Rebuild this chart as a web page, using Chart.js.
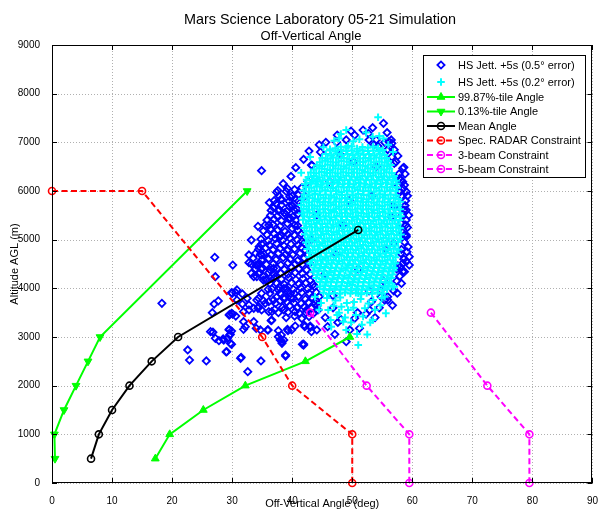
<!DOCTYPE html>
<html><head><meta charset="utf-8">
<script src="https://cdn.jsdelivr.net/npm/chart.js@4/dist/chart.umd.min.js"></script>
<style>html,body{margin:0;padding:0;background:#fff}canvas{display:block}</style>
</head><body>
<canvas id="c" width="602" height="513"></canvas>
<script>
// ---- tick labels ----
const xTicks = [0,10,20,30,40,50,60,70,80,90];
const yTicks = [0,1000,2000,3000,4000,5000,6000,7000,8000,9000];

// ---- line series (deg, m) ----
const p9987X = [17.2,19.6,25.2,32.2,42.2,49.6];
const p9987Y = [500,1000,1500,2000,2500,3000];
const p013X  = [0.5,0.4,2.0,4.0,6.0,8.0,32.5];
const p013Y  = [500,1000,1500,2000,2500,3000,6000];
const meanX  = [6.5,7.8,10.0,12.9,16.6,21.0,51.0];
const meanY  = [500,1000,1500,2000,2500,3000,5200];
const radarX = [0,15,35,40,50,50];
const radarY = [6000,6000,3000,2000,1000,0];
const beam3X = [43.0,52.4,59.5,59.5];
const beam3Y = [3500,2000,1000,0];
const beam5X = [63.1,72.5,79.5,79.5];
const beam5Y = [3500,2000,1000,0];

// ---- HS Jett. +5s (0.5 deg error) scatter ----
const hs05 = [
[34.9,6417],[43.3,6527],[37.4,5973],[36.2,5760],[38.1,5829],[37.7,5589],[36.9,5657],[39.5,5691],[34.3,5274],[36.1,5301],
[33.2,4993],[34.5,4855],[27.1,4637],[30.1,4479],[32.8,4685],[34.7,4699],[34.3,4479],[27.2,4239],[33.6,4239],[35.2,4171],
[30.0,3898],[30.8,3966],[31.7,3884],[27.7,3740],[27.0,3678],[26.7,3500],[29.6,3466],[30.1,3472],[32.8,3555],[32.2,3212],
[31.9,3158],[26.4,3109],[26.8,3100],[29.5,3144],[29.6,3041],[27.2,2973],[27.8,2924],[28.5,2959],[29.7,2870],[29.1,2698],
[22.6,2733],[22.9,2527],[25.7,2507],[31.4,2562],[32.6,2287],[34.8,2507],[35.9,3144],[36.6,3349],[37.7,3006],[38.3,2903],
[39.2,3158],[38.9,2609],[41.7,2850],[34.3,3589],[35.5,3692],[36.6,3520],[34.1,3760],[18.3,3692],[29.9,3910],[29.5,3452],
[29.9,3487],[29.2,2973],[28.6,2938],[29.5,3158],[29.7,3055],[29.0,2692],
[34.9,4685],[32.8,4527],[34.0,4479],[34.9,4390],[33.2,4308],[34.1,4239],[35.1,4253],[36.1,4321],[35.6,4171],[36.9,4411],
[37.2,4239],[37.4,4103],[36.0,3980],[36.3,3898],[37.7,3966],[38.6,4000],[34.9,3898],[34.4,3795],[35.2,3746],[36.1,3725],
[36.9,3760],[38.0,3746],[38.8,3795],[39.7,3898],[40.2,3795],[32.5,3795],[32.8,3658],[33.6,3589],[34.4,3623],[34.9,3555],
[36.1,3520],[37.1,3569],[37.7,3500],[38.6,3555],[30.6,3910],[30.8,3760],[31.7,3678],[31.9,3520],[30.6,3431],[31.9,3314],
[33.6,3314],[34.0,3178],[34.7,3144],[36.0,3144],[36.5,3335],[37.7,3130],[38.2,3041],[39.3,3130],[38.6,2938],[38.0,2938],
[38.3,2870],[41.9,2856],[40.5,3226],[42.1,3212],[43.0,3226],[43.2,3109],[38.9,2630],[31.5,2583],[29.9,2850],[29.9,3123],
[42.0,3246],[43.0,3199],[44.1,3144],[45.9,3212],[47.1,3055],[48.1,3363],[49.6,3144],[50.4,3384],[51.2,3178],[49.0,2903],
[41.9,2835],[39.9,3144],[52.9,3555],[53.2,3725],[54.8,3828],[55.9,3760],[52.3,3472],[44.3,3555],[42.4,3555],[58.4,4342],
[57.6,4459],[59.0,4548],[58.1,4719],[59.0,5095],
[55.2,7391],[51.8,7253],[50.4,7150],[47.4,7000],[56.1,7014],[56.6,6980],[55.4,7000],[43.2,6534],[41.6,6068],[54.3,6917],
[57.0,6569],[58.6,6486],[57.9,6260],[58.4,6191],[59.0,5986],[58.0,5986],[57.6,6102],[39.9,5712],[40.8,5623],[41.0,5787],
[42.1,5897],[39.7,5438],[40.4,5301],[59.0,5609],[58.1,5336],[58.7,5095],
[56.5,7048],[56.4,6911],[58.4,6466],[57.9,6123],[58.7,6123],[58.1,6226],[58.6,5609],[59.0,5404],[59.0,5061],[59.5,4650],
[59.5,4479],[58.7,4342],[58.0,4445],[58.4,4514],[55.4,3760],[55.9,3828],[54.8,3966],[56.9,4925],[56.5,5472],
[37.6,6010],[39.0,5990],[40.4,6030],[37.0,5800],[38.3,5820],[39.5,5790],[40.7,5830],[36.5,5600],[37.8,5620],[39.1,5580],
[40.3,5610],[35.8,5400],[37.0,5420],[38.2,5390],[39.4,5430],[40.6,5400],[35.2,5180],[36.4,5220],[37.6,5200],[38.8,5170],
[40.0,5230],[41.0,5190],[34.8,5010],[36.0,4980],[37.2,5020],[38.4,4990],[39.6,5030],[40.8,5000],[41.6,4970],[34.4,4800],
[35.6,4830],[36.8,4790],[38.0,4820],[39.2,4780],[40.4,4810],[41.5,4840],[42.2,4780],[33.5,4620],[34.9,4580],[36.1,4610],
[37.3,4590],[38.5,4630],[39.7,4600],[40.9,4570],[42.0,4620],[33.9,4400],[35.0,4420],[36.3,4380],[37.5,4410],[38.7,4390],
[39.9,4430],[41.1,4400],[42.4,4380],[35.8,4180],[37.0,4210],[38.2,4190],[39.4,4220],[40.6,4180],[41.8,4200],[43.0,4160],
[36.6,3990],[37.8,4020],[39.0,4000],[40.2,3980],[41.4,4010],[42.6,3990],[43.7,4030],[37.4,3820],[38.6,3790],[39.8,3810],
[41.0,3830],[42.2,3780],[43.4,3800],[44.5,3830],[38.4,3610],[39.6,3640],[40.8,3600],[42.0,3620],[43.2,3590],[44.2,3650],
[39.0,3400],[40.4,3430],[41.6,3380],[42.8,3420],
[44.0,5500],[46.2,6200],[48.5,5300],[51.0,4400],[53.3,5900],[55.6,4800],[47.3,4700],[50.2,6600],[52.8,3950],[45.5,4300],
[56.8,5700],[54.0,6500],[43.2,5000],[49.5,5800],[57.4,4400],[42.6,6200],[46.8,3850],[55.2,4150],[53.6,6950],[48.0,6750],
[38.5,6150],[39.8,6300],[40.6,6480],[41.9,6650],[42.8,6820],[44.5,6950],[39.2,6050],[40.0,5900],[38.7,5550],
[56.7,3650],[57.5,3900],[58.2,4100],[53.8,3400],[54.5,3600],[50.9,3500],[47.6,3300],[45.5,3400],[46.8,3600],[44.0,3750],
[59.2,5250],[58.9,5800],[59.3,4850],[58.8,6350],[57.6,6720],[57.0,6850],[55.8,7200],[53.4,7300],[52.7,7180],[49.8,7230],
[37.8,5900],[39.6,5880],[41.0,5920],[38.2,5710],[40.0,5690],[37.3,5740],[36.4,5500],[37.5,5480],[38.9,5520],[40.1,5470],
[41.0,5530],[35.5,5300],[36.8,5310],[38.0,5280],[39.2,5330],[40.9,5290],[37.9,5050],[35.8,5100],[37.0,5120],[38.1,5080],
[39.3,5110],[40.4,5090],[41.5,5120],[34.9,4910],[36.2,4890],[37.4,4920],[38.6,4880],[39.8,4910],[41.0,4890],[42.0,4930],
[33.9,4720],[35.3,4700],[36.5,4690],[37.7,4720],[38.9,4700],[40.1,4690],[41.3,4720],[42.5,4690],[33.2,4500],[34.5,4520],
[35.7,4490],[36.9,4510],[38.1,4480],[39.3,4520],[40.5,4500],[41.7,4490],[42.9,4520],[34.5,4300],[36.9,4290],[38.1,4310],
[39.3,4290],[40.5,4320],[41.7,4300],[43.0,4290],[36.3,4100],[38.7,4080],[39.9,4110],[41.1,4090],[42.3,4110],[43.5,4080],
[38.0,3900],[39.2,3930],[40.4,3890],[41.6,3910],[42.8,3900],[44.0,3920],[37.2,3690],[39.1,3720],[40.3,3700],[41.5,3690],
[42.7,3710],[43.9,3690],[39.3,3510],[40.5,3520],[41.2,3490],[42.3,3500],[43.5,3480],
[58.2,5900],[58.8,5700],[58.3,5500],[58.9,5300],[58.4,5150],[58.7,4950],[58.2,4800],[58.6,4600],[57.9,4250],[57.4,4150],
[56.9,3950],[58.0,5650],[58.5,6050],[57.8,6350],[56.6,6700],[55.9,6850],[59.2,5900],[59.4,5500],[59.1,4750],
[45.6,7000],[44.7,6800],[47.5,7150],[49.0,7050],[52.8,7050],[54.0,7050],[57.3,6600]
];

// ---- HS Jett. +5s (0.2 deg error) scatter ----
const hs02 = [
[47.2,6880],[48.1,6910],[49.0,6890],[49.9,6920],[50.8,6870],[51.7,6905],[52.6,6890],[53.5,6915],[54.3,6880],
[45.6,6760],[46.5,6730],[47.4,6770],[48.3,6740],[49.2,6760],[50.1,6735],[51.0,6770],[51.9,6745],[52.8,6760],[53.7,6730],[54.6,6765],[55.4,6740],
[44.6,6590],[45.5,6620],[46.4,6600],[47.3,6585],[48.2,6615],[49.1,6600],[50.0,6580],[50.9,6610],[51.8,6595],[52.7,6620],[53.6,6590],[54.5,6605],[55.4,6585],[56.0,6615],
[43.6,6440],[44.5,6470],[45.4,6450],[46.3,6430],[47.2,6460],[48.1,6445],[49.0,6470],[49.9,6440],[50.8,6455],[51.7,6430],[52.6,6465],[53.5,6445],[54.4,6460],[55.3,6435],[56.2,6455],
[42.7,6290],[43.6,6310],[44.5,6285],[45.4,6320],[46.3,6295],[47.2,6305],[48.1,6280],[49.0,6315],[49.9,6300],[50.8,6285],[51.7,6310],[52.6,6295],[53.5,6320],[54.4,6290],[55.3,6305],[56.2,6285],[57.0,6310],
[42.1,6140],[43.0,6165],[43.9,6150],[44.8,6130],[45.7,6160],[46.6,6145],[47.5,6170],[48.4,6140],[49.3,6155],[50.2,6135],[51.1,6165],[52.0,6150],[52.9,6130],[53.8,6160],[54.7,6145],[55.6,6170],[56.5,6140],[57.4,6155],
[41.9,6010],[42.8,5985],[43.7,6005],[44.6,5990],[45.5,6015],[46.4,5995],[47.3,6010],[48.2,5980],[49.1,6005],[50.0,5990],[50.9,6020],[51.8,5995],[52.7,6005],[53.6,5985],[54.5,6010],[55.4,5990],[56.3,6015],[57.2,5995],
[41.6,5840],[42.5,5865],[43.4,5850],[44.3,5830],[45.2,5860],[46.1,5845],[47.0,5870],[47.9,5840],[48.8,5855],[49.7,5835],[50.6,5865],[51.5,5850],[52.4,5830],[53.3,5860],[54.2,5845],[55.1,5870],[56.0,5840],[56.9,5855],[57.7,5835],
[41.5,5710],[42.4,5685],[43.3,5705],[44.2,5690],[45.1,5715],[46.0,5695],[46.9,5710],[47.8,5680],[48.7,5705],[49.6,5690],[50.5,5720],[51.4,5695],[52.3,5705],[53.2,5685],[54.1,5710],[55.0,5690],[55.9,5715],[56.8,5695],[57.7,5705],
[41.6,5540],[42.5,5565],[43.4,5550],[44.3,5530],[45.2,5560],[46.1,5545],[47.0,5570],[47.9,5540],[48.8,5555],[49.7,5535],[50.6,5565],[51.5,5550],[52.4,5530],[53.3,5560],[54.2,5545],[55.1,5570],[56.0,5540],[56.9,5555],[57.9,5545],
[41.8,5410],[42.7,5385],[43.6,5405],[44.5,5390],[45.4,5415],[46.3,5395],[47.2,5410],[48.1,5380],[49.0,5405],[49.9,5390],[50.8,5420],[51.7,5395],[52.6,5405],[53.5,5385],[54.4,5410],[55.3,5390],[56.2,5415],[57.1,5395],[57.9,5405],
[42.0,5240],[42.9,5265],[43.8,5250],[44.7,5230],[45.6,5260],[46.5,5245],[47.4,5270],[48.3,5240],[49.2,5255],[50.1,5235],[51.0,5265],[51.9,5250],[52.8,5230],[53.7,5260],[54.6,5245],[55.5,5270],[56.4,5240],[57.3,5255],[58.0,5235],
[42.1,5110],[43.0,5085],[43.9,5105],[44.8,5090],[45.7,5115],[46.6,5095],[47.5,5110],[48.4,5080],[49.3,5105],[50.2,5090],[51.1,5120],[52.0,5095],[52.9,5105],[53.8,5085],[54.7,5110],[55.6,5090],[56.5,5115],[57.4,5095],[58.1,5105],
[42.3,4940],[43.2,4965],[44.1,4950],[45.0,4930],[45.9,4960],[46.8,4945],[47.7,4970],[48.6,4940],[49.5,4955],[50.4,4935],[51.3,4965],[52.2,4950],[53.1,4930],[54.0,4960],[54.9,4945],[55.8,4970],[56.7,4940],[57.6,4955],
[42.5,4810],[43.4,4785],[44.3,4805],[45.2,4790],[46.1,4815],[47.0,4795],[47.9,4810],[48.8,4780],[49.7,4805],[50.6,4790],[51.5,4820],[52.4,4795],[53.3,4805],[54.2,4785],[55.1,4810],[56.0,4790],[56.9,4815],[57.7,4795],
[42.8,4640],[43.7,4665],[44.6,4650],[45.5,4630],[46.4,4660],[47.3,4645],[48.2,4670],[49.1,4640],[50.0,4655],[50.9,4635],[51.8,4665],[52.7,4650],[53.6,4630],[54.5,4660],[55.4,4645],[56.3,4670],[57.2,4640],
[43.0,4510],[43.9,4485],[44.8,4505],[45.7,4490],[46.6,4515],[47.5,4495],[48.4,4510],[49.3,4480],[50.2,4505],[51.1,4490],[52.0,4520],[52.9,4495],[53.8,4505],[54.7,4485],[55.6,4510],[56.5,4490],[57.2,4515],
[43.5,4340],[44.4,4365],[45.3,4350],[46.2,4330],[47.1,4360],[48.0,4345],[48.9,4370],[49.8,4340],[50.7,4355],[51.6,4335],[52.5,4365],[53.4,4350],[54.3,4330],[55.2,4360],[56.1,4345],[56.9,4365],
[44.0,4210],[44.9,4185],[45.8,4205],[46.7,4190],[47.6,4215],[48.5,4195],[49.4,4210],[50.3,4180],[51.2,4205],[52.1,4190],[53.0,4220],[53.9,4195],[54.8,4205],[55.7,4185],[56.5,4210],
[44.6,4040],[45.5,4065],[46.4,4050],[47.3,4030],[48.2,4060],[49.1,4045],[50.0,4070],[50.9,4040],[51.8,4055],[52.7,4035],[53.6,4065],[54.5,4050],[55.4,4030],[56.0,4060],
[45.2,3910],[46.1,3885],[47.0,3905],[47.9,3890],[48.8,3915],[49.7,3895],[50.6,3910],[51.5,3880],[52.4,3905],[53.3,3890],[54.2,3915],[55.0,3895],
[46.3,6830],[47.2,6815],[48.1,6840],[49.0,6820],[49.9,6830],[50.8,6810],[51.7,6835],[52.6,6820],[53.5,6830],[54.4,6815],[55.1,6840],
[45.0,6680],[45.9,6665],[46.8,6690],[47.7,6670],[48.6,6680],[49.5,6660],[50.4,6685],[51.3,6670],[52.2,6680],[53.1,6665],[54.0,6690],[54.9,6670],[55.7,6680],
[44.1,6530],[45.0,6515],[45.9,6540],[46.8,6520],[47.7,6530],[48.6,6510],[49.5,6535],[50.4,6520],[51.3,6530],[52.2,6515],[53.1,6540],[54.0,6520],[54.9,6530],[55.8,6510],[56.4,6535],
[43.1,6380],[44.0,6365],[44.9,6390],[45.8,6370],[46.7,6380],[47.6,6360],[48.5,6385],[49.4,6370],[50.3,6380],[51.2,6365],[52.1,6390],[53.0,6370],[53.9,6380],[54.8,6360],[55.7,6385],[56.6,6370],
[42.4,6230],[43.3,6215],[44.2,6240],[45.1,6220],[46.0,6230],[46.9,6210],[47.8,6235],[48.7,6220],[49.6,6230],[50.5,6215],[51.4,6240],[52.3,6220],[53.2,6230],[54.1,6210],[55.0,6235],[55.9,6220],[56.8,6230],[57.3,6210],
[42.3,6080],[43.2,6065],[44.1,6090],[45.0,6070],[45.9,6080],[46.8,6060],[47.7,6085],[48.6,6070],[49.5,6080],[50.4,6065],[51.3,6090],[52.2,6070],[53.1,6080],[54.0,6060],[54.9,6085],[55.8,6070],[56.7,6080],[57.5,6065],
[42.0,5930],[42.9,5915],[43.8,5940],[44.7,5920],[45.6,5930],[46.5,5910],[47.4,5935],[48.3,5920],[49.2,5930],[50.1,5915],[51.0,5940],[51.9,5920],[52.8,5930],[53.7,5910],[54.6,5935],[55.5,5920],[56.4,5930],[57.3,5915],
[41.9,5780],[42.8,5765],[43.7,5790],[44.6,5770],[45.5,5780],[46.4,5760],[47.3,5785],[48.2,5770],[49.1,5780],[50.0,5765],[50.9,5790],[51.8,5770],[52.7,5780],[53.6,5760],[54.5,5785],[55.4,5770],[56.3,5780],[57.2,5765],[58.0,5780],
[41.9,5630],[42.8,5615],[43.7,5640],[44.6,5620],[45.5,5630],[46.4,5610],[47.3,5635],[48.2,5620],[49.1,5630],[50.0,5615],[50.9,5640],[51.8,5620],[52.7,5630],[53.6,5610],[54.5,5635],[55.4,5620],[56.3,5630],[57.2,5615],[58.0,5625],
[42.0,5480],[42.9,5465],[43.8,5490],[44.7,5470],[45.6,5480],[46.5,5460],[47.4,5485],[48.3,5470],[49.2,5480],[50.1,5465],[51.0,5490],[51.9,5470],[52.8,5480],[53.7,5460],[54.6,5485],[55.5,5470],[56.4,5480],[57.3,5465],[58.1,5480],
[42.3,5330],[43.2,5315],[44.1,5340],[45.0,5320],[45.9,5330],[46.8,5310],[47.7,5335],[48.6,5320],[49.5,5330],[50.4,5315],[51.3,5340],[52.2,5320],[53.1,5330],[54.0,5310],[54.9,5335],[55.8,5320],[56.7,5330],[57.6,5315],
[42.4,5180],[43.3,5165],[44.2,5190],[45.1,5170],[46.0,5180],[46.9,5160],[47.8,5185],[48.7,5170],[49.6,5180],[50.5,5165],[51.4,5190],[52.3,5170],[53.2,5180],[54.1,5160],[55.0,5185],[55.9,5170],[56.8,5180],[57.7,5165],
[42.6,5030],[43.5,5015],[44.4,5040],[45.3,5020],[46.2,5030],[47.1,5010],[48.0,5035],[48.9,5020],[49.8,5030],[50.7,5015],[51.6,5040],[52.5,5020],[53.4,5030],[54.3,5010],[55.2,5035],[56.1,5020],[57.0,5030],[57.9,5015],
[42.8,4880],[43.7,4865],[44.6,4890],[45.5,4870],[46.4,4880],[47.3,4860],[48.2,4885],[49.1,4870],[50.0,4880],[50.9,4865],[51.8,4890],[52.7,4870],[53.6,4880],[54.5,4860],[55.4,4885],[56.3,4870],[57.2,4880],
[43.0,4730],[43.9,4715],[44.8,4740],[45.7,4720],[46.6,4730],[47.5,4710],[48.4,4735],[49.3,4720],[50.2,4730],[51.1,4715],[52.0,4740],[52.9,4720],[53.8,4730],[54.7,4710],[55.6,4735],[56.5,4720],[57.4,4730],
[43.3,4580],[44.2,4565],[45.1,4590],[46.0,4570],[46.9,4580],[47.8,4560],[48.7,4585],[49.6,4570],[50.5,4580],[51.4,4565],[52.3,4590],[53.2,4570],[54.1,4580],[55.0,4560],[55.9,4585],[56.8,4570],
[43.7,4430],[44.6,4415],[45.5,4440],[46.4,4420],[47.3,4430],[48.2,4410],[49.1,4435],[50.0,4420],[50.9,4430],[51.8,4415],[52.7,4440],[53.6,4420],[54.5,4430],[55.4,4410],[56.3,4435],[57.0,4420],
[44.2,4280],[45.1,4265],[46.0,4290],[46.9,4270],[47.8,4280],[48.7,4260],[49.6,4285],[50.5,4270],[51.4,4280],[52.3,4265],[53.2,4290],[54.1,4270],[55.0,4280],[55.9,4260],[56.7,4285],
[44.7,4130],[45.6,4115],[46.5,4140],[47.4,4120],[48.3,4130],[49.2,4110],[50.1,4135],[51.0,4120],[51.9,4130],[52.8,4115],[53.7,4140],[54.6,4120],[55.5,4130],[56.2,4110],
[45.3,3980],[46.2,3965],[47.1,3990],[48.0,3970],[48.9,3980],[49.8,3960],[50.7,3985],[51.6,3970],[52.5,3980],[53.4,3965],[54.3,3990],[55.2,3970],[55.8,3980],
[54.3,7514],[48.1,7171],[49.0,7253],[41.5,6376],[46.3,6856],[49.3,6924],[51.2,7062],[53.4,7115],[54.5,7130],[44.0,6191],
[50.2,7020],[47.0,7030],[52.3,7200],[55.2,7080],[56.0,6950],[47.8,7080],[45.2,6900],[43.0,6700],[56.8,6800],
[57.0,4034],[55.4,3828],[53.4,3349],[55.6,3486],[51.0,2835],[50.8,3062],[48.5,3314],[46.0,3555],[49.3,3555],[52.1,3589],
[49.0,3144],[46.5,3212],[51.0,3898],[43.8,3828],[48.2,3623],[56.7,4034],[47.2,3750],[50.3,3720],[53.5,3760],[44.8,3700],
[51.8,3420],[47.5,3450],[45.3,3980],[54.7,3650],[49.8,3300],[52.5,3050],[45.8,3800],[46.9,3640],[48.0,3810],[49.1,3700],
[50.2,3600],[51.4,3780],[52.7,3690],[53.8,3560],[54.9,3800],[44.5,3560],[47.8,3500],[50.6,3450],[48.8,3400],[46.4,3350],
[51.6,3250],[53.0,3300]
];

const labels = ['HS Jett. +5s (0.5\u00B0 error)','HS Jett. +5s (0.2\u00B0 error)','99.87%-tile Angle','0.13%-tile Angle','Mean Angle','Spec. RADAR Constraint','3-beam Constraint','5-beam Constraint'];

const FONT = "'Liberation Sans', Arial, Helvetica, sans-serif";
Chart.defaults.font.family = FONT;
const pts = (X,Y)=>X.map((x,i)=>({x:x,y:Y[i]}));
const pairs = a=>a.map(p=>({x:p[0],y:p[1]}));

const BLUE='#0000ff', CYAN='#00ffff', GREEN='#00ff00', RED='#ff0000', MAG='#ff00ff';
const NONE='rgba(0,0,0,0)';

const datasets = [
 {label:labels[0], data:pairs(hs05), showLine:false, pointStyle:'rectRot', pointRadius:3.6, borderWidth:1.8, pointBorderColor:BLUE, pointBackgroundColor:NONE, borderColor:BLUE, order:3, clip:false},
 {label:labels[1], data:pairs(hs02), showLine:false, pointStyle:'cross', pointRadius:3.8, borderWidth:2, pointBorderColor:CYAN, borderColor:CYAN, order:2, clip:false},
 {label:labels[2], data:pts(p9987X,p9987Y), showLine:true, borderColor:GREEN, borderWidth:2, pointStyle:'triangle', pointRadius:4.5, pointBorderWidth:1, pointBorderColor:GREEN, pointBackgroundColor:GREEN, order:1, clip:false},
 {label:labels[3], data:pts(p013X,p013Y), showLine:true, borderColor:GREEN, borderWidth:2, pointStyle:'triangle', pointRotation:180, pointRadius:4.5, pointBorderWidth:1, pointBorderColor:GREEN, pointBackgroundColor:GREEN, order:1, clip:false},
 {label:labels[4], data:pts(meanX,meanY), showLine:true, borderColor:'#000', borderWidth:2, pointStyle:'circle', pointRadius:3.5, pointBorderWidth:1.6, pointBorderColor:'#000', pointBackgroundColor:NONE, order:0, clip:false},
 {label:labels[5], data:pts(radarX,radarY), showLine:true, borderColor:RED, borderWidth:2, borderDash:[6,3.5], pointStyle:'circle', pointRadius:3.5, pointBorderWidth:1.6, pointBorderColor:RED, pointBackgroundColor:NONE, order:0, clip:false},
 {label:labels[6], data:pts(beam3X,beam3Y), showLine:true, borderColor:MAG, borderWidth:2, borderDash:[6,3.5], pointStyle:'circle', pointRadius:3.5, pointBorderWidth:1.6, pointBorderColor:MAG, pointBackgroundColor:NONE, order:0, clip:false},
 {label:labels[7], data:pts(beam5X,beam5Y), showLine:true, borderColor:MAG, borderWidth:2, borderDash:[6,3.5], pointStyle:'circle', pointRadius:3.5, pointBorderWidth:1.6, pointBorderColor:MAG, pointBackgroundColor:NONE, order:0, clip:false}
];

function marker(ctx, ds, x, y){
  ctx.save();
  ctx.setLineDash([]);
  ctx.strokeStyle = ds.pointBorderColor;
  ctx.fillStyle = ds.pointBackgroundColor || NONE;
  ctx.lineWidth = ds.pointBorderWidth || ds.borderWidth;
  Chart.helpers.drawPoint(ctx, {pointStyle:ds.pointStyle, rotation:ds.pointRotation||0, radius:ds.pointRadius, borderWidth:ctx.lineWidth}, x, y);
  ctx.restore();
}

const frame = {
  id:'frame',
  beforeDraw(c){
    const ctx=c.ctx; ctx.save(); ctx.fillStyle='#fff'; ctx.fillRect(0,0,c.width,c.height); ctx.restore();
  },
  beforeDatasetsDraw(c){
    const ctx=c.ctx, a=c.chartArea, xs=c.scales.x, ys=c.scales.y;
    ctx.save();
    ctx.strokeStyle='#b0b0b0'; ctx.lineWidth=1; ctx.setLineDash([1,2]);
    xTicks.forEach(v=>{ const p=Math.round(xs.getPixelForValue(v))+0.5; ctx.beginPath(); ctx.moveTo(p,a.top); ctx.lineTo(p,a.bottom); ctx.stroke(); });
    yTicks.forEach(v=>{ const p=Math.round(ys.getPixelForValue(v))+0.5; ctx.beginPath(); ctx.moveTo(a.left,p); ctx.lineTo(a.right,p); ctx.stroke(); });
    ctx.restore();
  },
  afterDatasetsDraw(c){
    const ctx=c.ctx, a=c.chartArea, xs=c.scales.x, ys=c.scales.y;
    ctx.save();
    ctx.strokeStyle='#000'; ctx.lineWidth=1; ctx.setLineDash([]);
    ctx.strokeRect(Math.round(a.left)+0.5, Math.round(a.top)+0.5, Math.round(a.right-a.left)-1, Math.round(a.bottom-a.top)-1);
    const L=5;
    xTicks.forEach(v=>{ const p=Math.round(xs.getPixelForValue(v))+0.5; ctx.beginPath(); ctx.moveTo(p,a.bottom); ctx.lineTo(p,a.bottom-L); ctx.moveTo(p,a.top); ctx.lineTo(p,a.top+L); ctx.stroke(); });
    yTicks.forEach(v=>{ const p=Math.round(ys.getPixelForValue(v))+0.5; ctx.beginPath(); ctx.moveTo(a.left,p); ctx.lineTo(a.left+L,p); ctx.moveTo(a.right,p); ctx.lineTo(a.right-L,p); ctx.stroke(); });
    ctx.restore();
  },
  afterDraw(c){
    const ctx=c.ctx, a=c.chartArea;
    const cx=(a.left+a.right)/2, cy=(a.top+a.bottom)/2;
    ctx.save();
    ctx.fillStyle='#000'; ctx.textAlign='center'; ctx.textBaseline='alphabetic';
    ctx.font='14.4px '+FONT; ctx.fillText('Mars Science Laboratory 05-21 Simulation', 320, 24);
    ctx.font='13px '+FONT; ctx.fillText('Off-Vertical Angle', 311, 40);
    ctx.textBaseline='middle';
    ctx.font='11px '+FONT; ctx.fillText('Off-Vertical Angle (deg)', cx, 504);
    ctx.save(); ctx.translate(15, cy); ctx.rotate(-Math.PI/2); ctx.fillText('Altitude AGL (m)', 0, 0); ctx.restore();
    // legend box
    const bx=423, by=55, bw=162, bh=122;
    ctx.fillStyle='#fff'; ctx.fillRect(bx,by,bw,bh);
    ctx.strokeStyle='#000'; ctx.lineWidth=1; ctx.strokeRect(bx+0.5,by+0.5,bw,bh);
    const rowsY=[65,82,97,111.5,126,140.5,155,169];
    ctx.font='11px '+FONT; ctx.textAlign='left';
    c.data.datasets.forEach((ds,i)=>{
      const y=rowsY[i];
      if(ds.showLine){
        ctx.save(); ctx.strokeStyle=ds.borderColor; ctx.lineWidth=ds.borderWidth; ctx.setLineDash(ds.borderDash||[]);
        ctx.beginPath(); ctx.moveTo(427,y); ctx.lineTo(455,y); ctx.stroke(); ctx.restore();
      }
      marker(ctx, ds, 441, y);
      ctx.fillStyle='#000'; ctx.fillText(ds.label, 458, y+0.5);
    });
    ctx.restore();
  }
};

new Chart(document.getElementById('c').getContext('2d'), {
  type:'scatter',
  data:{datasets:datasets},
  options:{
    responsive:false, animation:false, devicePixelRatio:1,
    layout:{padding:{top:45,right:6,left:0,bottom:0}},
    plugins:{legend:{display:false}, tooltip:{enabled:false}, title:{display:false}},
    scales:{
      x:{type:'linear', min:0, max:90,
         afterFit(s){ s.height=30; },
         afterBuildTicks(s){ s.ticks=xTicks.map(v=>({value:v})); },
         grid:{display:false}, border:{display:false},
         ticks:{color:'#000', font:{size:10, family:FONT}, padding:4, maxRotation:0, autoSkip:false, callback:v=>String(v)}},
      y:{type:'linear', min:0, max:9000,
         afterFit(s){ s.width=52; },
         afterBuildTicks(s){ s.ticks=yTicks.map(v=>({value:v})); },
         grid:{display:false}, border:{display:false},
         ticks:{color:'#000', font:{size:10, family:FONT}, padding:4, autoSkip:false, callback:v=>String(v)}}
    }
  },
  plugins:[frame]
});
</script>
</body></html>
